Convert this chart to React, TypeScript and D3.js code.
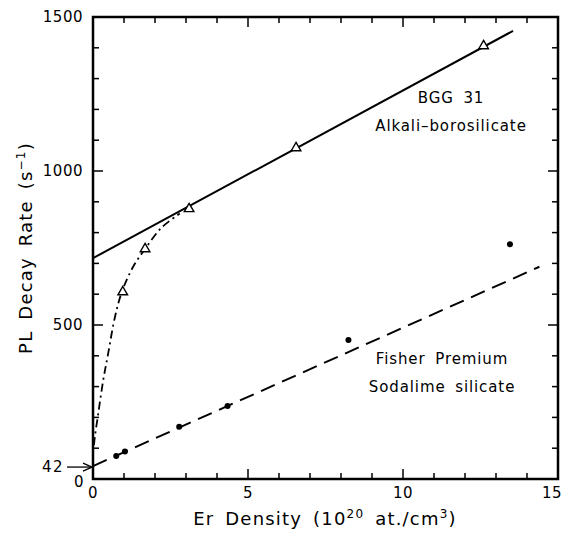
import React from 'react';
import * as d3 from 'd3';

// BGG 31 alkali-borosilicate (open triangles)
const bggX = [0.96, 1.68, 3.1, 6.55, 12.6];
const bggY = [607, 747, 877, 1075, 1406];
// linear fit drawn through them
const bggFitX = [0, 13.55];
const bggFitY = [717, 1455];
// dash-dot guide at low density
const bggCurveX = [0.03, 0.06, 0.17, 0.33, 0.49, 0.71, 0.94, 1.3, 1.68, 2.2, 2.8];
const bggCurveY = [110, 137, 213, 321, 408, 527, 610, 690, 747, 815, 862];

// Fisher Premium sodalime silicate (filled dots)
const fisherX = [0.75, 1.03, 2.78, 4.34, 8.24, 13.45];
const fisherY = [75, 89, 170, 237, 451, 762];
const fisherFitX = [0, 14.4];
const fisherFitY = [42, 689];

const xTicks = [0, 5, 10, 15];
const yTicks = [0, 500, 1000, 1500];
const interceptLabel = 42;

const W = 564;
const H = 533;
const margin = { top: 17, right: 6, bottom: 54, left: 93 };
const font = '"DejaVu Sans", sans-serif';

const zip = (xs: number[], ys: number[]) => xs.map((x, i) => [x, ys[i]] as [number, number]);

export default function App() {
  const x = d3.scaleLinear().domain([0, 15]).range([margin.left, W - margin.right]);
  const y = d3.scaleLinear().domain([0, 1500]).range([H - margin.bottom, margin.top]);

  const line = d3.line<[number, number]>().x(d => x(d[0])).y(d => y(d[1]));
  const curve = d3
    .line<[number, number]>()
    .x(d => x(d[0]))
    .y(d => y(d[1]))
    .curve(d3.curveCatmullRom.alpha(0.5));

  const x0 = x(0), x1 = x(15), y0 = y(0), y1 = y(1500);
  const xMinor = d3.range(0, 16, 1);
  const yMinor = d3.range(0, 1501, 100);
  const tri = d3.symbol().type(d3.symbolTriangle).size(40)();

  return (
    <svg width={W} height={H} style={{ position: 'absolute', left: 0, top: 0, background: '#fff' }}
      fontFamily={font}>
      {/* ticks on all four sides, pointing inward */}
      <g stroke="#000" strokeWidth={1.5}>
        {xMinor.map(v => {
          const len = v % 5 === 0 ? 10 : 6;
          return (
            <g key={'xt' + v}>
              <line x1={x(v)} x2={x(v)} y1={y0} y2={y0 - len} />
              <line x1={x(v)} x2={x(v)} y1={y1} y2={y1 + len} />
            </g>
          );
        })}
        {yMinor.map(v => {
          const len = v % 500 === 0 ? 10 : 6;
          return (
            <g key={'yt' + v}>
              <line x1={x0} x2={x0 + len} y1={y(v)} y2={y(v)} />
              <line x1={x1} x2={x1 - len} y1={y(v)} y2={y(v)} />
            </g>
          );
        })}
      </g>
      <rect x={x0} y={y1} width={x1 - x0} height={y0 - y1} fill="none" stroke="#000" strokeWidth={2.5} />

      {/* tick labels */}
      <g fontSize={15} fill="#000" letterSpacing={0.5}>
        {xTicks.map(v => (
          <text key={'xl' + v} x={v === 15 ? W - 2 : x(v)} y={y0 + 19}
            textAnchor={v === 15 ? 'end' : 'middle'}>{v}</text>
        ))}
        {yTicks.map(v => (
          <text key={'yl' + v} x={x0 - (v === 0 ? 9 : 10)} y={y(v) + (v === 0 ? 8 : 5)} textAnchor="end">{v}</text>
        ))}
        <text x={64} y={y(interceptLabel) + 6} textAnchor="end" letterSpacing={1.5}>{interceptLabel}</text>
      </g>
      {/* arrow to the intercept */}
      <line x1={67} x2={x0 - 2} y1={y(interceptLabel) + 1} y2={y(interceptLabel) + 1} stroke="#000" strokeWidth={1.3} />
      <path d={`M${x0 - 1},${y(interceptLabel) + 1} l-9,-4 M${x0 - 1},${y(interceptLabel) + 1} l-9,4`}
        stroke="#000" strokeWidth={1.3} fill="none" />

      {/* axis titles */}
      <text x={325} y={525} textAnchor="middle" fontSize={18} letterSpacing={1.2} wordSpacing={4}>
        Er Density (10<tspan dy={-7} fontSize={12}>20</tspan>
        <tspan dy={7}> at./cm</tspan>
        <tspan dy={-7} fontSize={12}>3</tspan>
        <tspan dy={7}>)</tspan>
      </text>
      <text transform={`translate(32,248) rotate(-90)`} textAnchor="middle" fontSize={18}
        letterSpacing={1.2} wordSpacing={4}>
        PL Decay Rate (s<tspan dy={-7} fontSize={12}>−1</tspan>
        <tspan dy={7}>)</tspan>
      </text>

      {/* fits */}
      <path d={line(zip(bggFitX, bggFitY)) ?? ''} fill="none" stroke="#000" strokeWidth={2} />
      <path d={curve(zip(bggCurveX, bggCurveY)) ?? ''} fill="none" stroke="#000" strokeWidth={1.8}
        strokeDasharray="8 4 2 4" />
      <path d={line(zip(fisherFitX, fisherFitY)) ?? ''} fill="none" stroke="#000" strokeWidth={2}
        strokeDasharray="15 8" />

      {/* markers */}
      {zip(bggX, bggY).map((d, i) => (
        <path key={'b' + i} d={tri ?? ''} transform={`translate(${x(d[0])},${y(d[1])})`}
          fill="#fff" stroke="#000" strokeWidth={1.4} />
      ))}
      {zip(fisherX, fisherY).map((d, i) => (
        <circle key={'f' + i} cx={x(d[0])} cy={y(d[1])} r={3} fill="#000" />
      ))}

      {/* annotations */}
      <g fontSize={15} textAnchor="middle" letterSpacing={0.9} wordSpacing={4}>
        <text x={451} y={103}>BGG 31</text>
        <text x={451} y={131}>Alkali–borosilicate</text>
        <text x={442} y={364}>Fisher Premium</text>
        <text x={442} y={392}>Sodalime silicate</text>
      </g>
    </svg>
  );
}
